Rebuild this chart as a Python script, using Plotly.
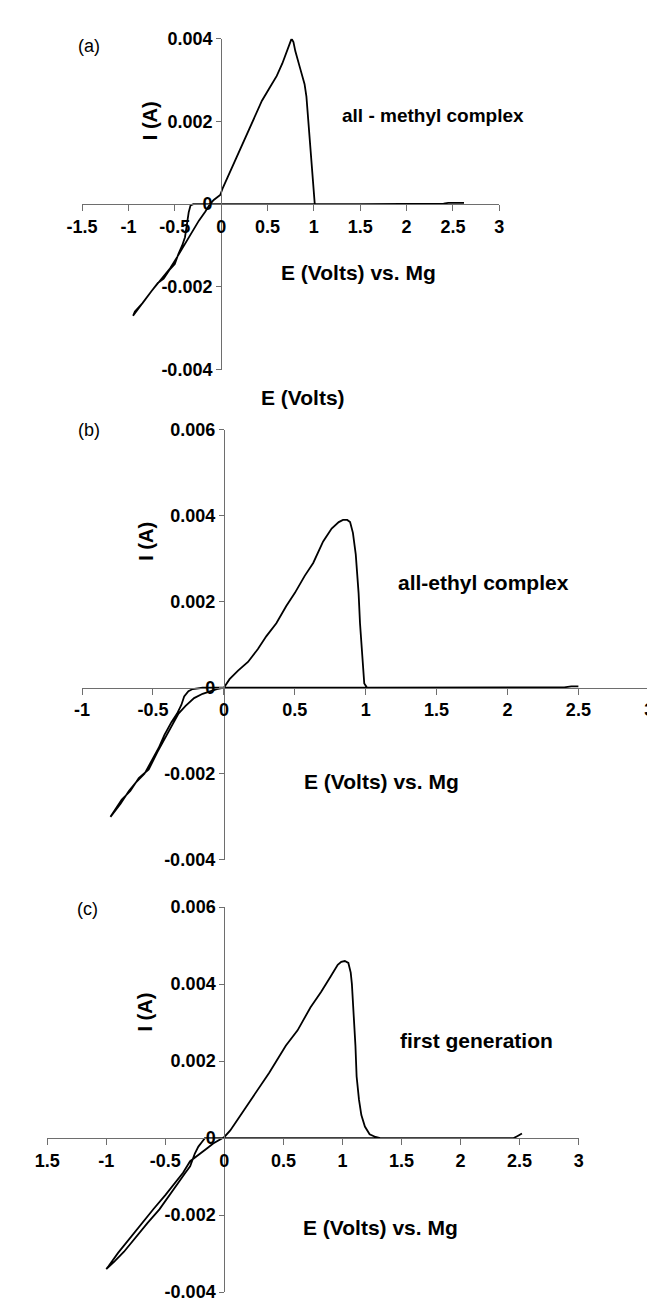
import plotly.graph_objects as go

# ---------------- data (E in V vs. Mg, I in A) ----------------
E_a = [2.62, 2.55, 2.45, 2.40, 2.0, 1.5, 1.0, 0.5, 0.0, -0.20, -0.30, -0.33,
       -0.35, -0.37, -0.39, -0.42, -0.46, -0.50, -0.56, -0.62, -0.68, -0.75, -0.82, -0.88, -0.95,
       -0.93, -0.85, -0.75, -0.64, -0.55, -0.48, -0.40, -0.32, -0.24, -0.17, -0.12, -0.08, -0.04,
       -0.01, 0.02, 0.06, 0.12, 0.20, 0.28, 0.36, 0.44, 0.52, 0.60, 0.66, 0.71, 0.74, 0.76, 0.78, 0.80,
       0.85, 0.90, 0.92, 0.94, 0.96, 0.99, 1.01, 1.5, 2.0, 2.4, 2.45, 2.62]
I_a = [0.00003, 0.00003, 0.00003, 0.00001, 0.0, 0.0, 0.0, 0.0, 0.0, 0.0, 0.0, -0.00003,
       -0.0002, -0.0005, -0.0008, -0.0010, -0.0012, -0.00145, -0.0016, -0.0018, -0.0019, -0.0021, -0.0023, -0.0025, -0.0027,
       -0.0026, -0.0024, -0.0021, -0.0018, -0.00155, -0.0013, -0.0010, -0.0007, -0.0004, -0.00018, 0.0, 0.0001, 0.00016,
       0.00022, 0.0004, 0.0006, 0.0009, 0.0013, 0.0017, 0.0021, 0.0025, 0.0028, 0.0031, 0.0034, 0.0037, 0.00393, 0.0040, 0.00392, 0.0037,
       0.0033, 0.0029, 0.0026, 0.0020, 0.0013, 0.0005, 0.0, 0.0, 0.0, 0.00001, 0.00003, 0.00003]

E_b = [2.50, 2.45, 2.40, 2.0, 1.5, 1.0, 0.5, 0.0, -0.15, -0.22,
       -0.25, -0.28, -0.30, -0.33, -0.37, -0.42, -0.46, -0.51, -0.56, -0.62, -0.67, -0.73, -0.80,
       -0.78, -0.72, -0.66, -0.60, -0.53, -0.47, -0.42, -0.37, -0.32, -0.27, -0.21, -0.15, -0.10, -0.05,
       0.0, 0.04, 0.10, 0.17, 0.24, 0.30, 0.37, 0.44, 0.50, 0.57, 0.63, 0.70, 0.76, 0.81, 0.84, 0.87, 0.89,
       0.91, 0.93, 0.95, 0.96, 0.98, 0.99, 1.01, 1.5, 2.0, 2.40, 2.45, 2.50]
I_b = [0.00003, 0.00003, 0.00001, 0.0, 0.0, 0.0, 0.0, 0.0, 0.0, -0.00003,
       -0.00008, -0.0002, -0.0004, -0.0006, -0.0008, -0.0011, -0.0014, -0.0017, -0.0020, -0.0022, -0.0024, -0.0027, -0.0030,
       -0.0029, -0.0026, -0.0024, -0.0021, -0.0019, -0.0015, -0.0012, -0.0009, -0.0006, -0.00042, -0.00024, -0.00014, -0.00008, -0.00003,
       0.0, 0.0002, 0.0004, 0.0006, 0.0009, 0.0012, 0.0015, 0.0019, 0.0022, 0.0026, 0.0029, 0.0034, 0.0037, 0.00385, 0.0039, 0.0039, 0.00385,
       0.0036, 0.0031, 0.0022, 0.0015, 0.0006, 0.0001, 0.0, 0.0, 0.0, 0.00001, 0.00003, 0.00003]

E_c = [2.45, 2.0, 1.5, 1.0, 0.5, 0.0, -0.10, -0.165,
       -0.19, -0.22, -0.25, -0.29, -0.33, -0.37, -0.45, -0.55, -0.65, -0.75, -0.85, -0.93, -1.00,
       -0.98, -0.90, -0.80, -0.70, -0.60, -0.50, -0.42, -0.35, -0.29, -0.20, -0.14, -0.095, -0.04,
       0.0, 0.05, 0.14, 0.25, 0.38, 0.52, 0.62, 0.73, 0.82, 0.90, 0.96, 0.99, 1.02, 1.05, 1.07, 1.08,
       1.10, 1.11, 1.12, 1.14, 1.16, 1.19, 1.23, 1.28, 1.32, 1.8, 2.2, 2.45, 2.48, 2.52]
I_c = [0.0, 0.0, 0.0, 0.0, 0.0, 0.0, 0.0, 0.0,
       -0.0001, -0.00022, -0.0004, -0.00073, -0.0009, -0.00107, -0.0014, -0.00185, -0.0022, -0.00258, -0.00295, -0.0032, -0.0034,
       -0.00332, -0.00298, -0.0026, -0.0022, -0.00184, -0.00148, -0.00118, -0.0009, -0.0006, -0.0004, -0.00025, -0.00014, -0.00005,
       0.00003, 0.0002, 0.0006, 0.0011, 0.0017, 0.0024, 0.0028, 0.0034, 0.0038, 0.0042, 0.0045, 0.00458, 0.0046, 0.00455, 0.0043, 0.0040,
       0.0031, 0.0024, 0.0016, 0.0010, 0.0006, 0.0003, 0.0001, 0.00003, 0.0, 0.0, 0.0, 0.0, 0.00005, 0.00012]

# tick labels
xt_a_vals = [-1.5, -1, -0.5, 0, 0.5, 1, 1.5, 2, 2.5, 3]
xt_a_text = ["-1.5", "-1", "-0.5", "0", "0.5", "1", "1.5", "2", "2.5", "3"]
yt_a_vals = [-0.004, -0.002, 0, 0.002, 0.004]
yt_a_text = ["-0.004", "-0.002", "0", "0.002", "0.004"]

xt_b_vals = [-1, -0.5, 0, 0.5, 1, 1.5, 2, 2.5, 3]
xt_b_text = ["-1", "-0.5", "0", "0.5", "1", "1.5", "2", "2.5", "3"]
yt_b_vals = [-0.004, -0.002, 0, 0.002, 0.004, 0.006]
yt_b_text = ["-0.004", "-0.002", "0", "0.002", "0.004", "0.006"]

xt_c_vals = [-1.5, -1, -0.5, 0, 0.5, 1, 1.5, 2, 2.5, 3]
xt_c_text = ["1.5", "-1", "-0.5", "0", "0.5", "1", "1.5", "2", "2.5", "3"]
yt_c_vals = yt_b_vals
yt_c_text = yt_b_text

panel_letters = ["(a)", "(b)", "(c)"]
panel_names = ["all - methyl complex", "all-ethyl complex", "first generation"]
x_title = "E (Volts) vs. Mg"
y_title = "I (A)"
extra_title = "E (Volts)"

# ---------------- layout helpers ----------------
W, H = 655, 1302
FONT = "Liberation Sans"


def px(x):
    return x / W


def py(y):
    return 1 - y / H


panels = [
    dict(E=E_a, I=I_a, xr=[-1.5, 3], yr=[-0.004, 0.004], xpx=[60, 491], ypx=[21, 357],
         xt=(xt_a_vals, xt_a_text), yt=(yt_a_vals, yt_a_text)),
    dict(E=E_b, I=I_b, xr=[-1, 3], yr=[-0.004, 0.006], xpx=[60, 646], ypx=[418, 855],
         xt=(xt_b_vals, xt_b_text), yt=(yt_b_vals, yt_b_text)),
    dict(E=E_c, I=I_c, xr=[-1.5, 3], yr=[-0.004, 0.006], xpx=[24, 573], ypx=[903, 1294],
         xt=(xt_c_vals, xt_c_text), yt=(yt_c_vals, yt_c_text)),
]

fig = go.Figure()
layout = {}
tickfont = dict(family=FONT, size=18, color="black", weight="bold")

for k, p in enumerate(panels, start=1):
    xd = [px(p["xpx"][0]), px(p["xpx"][1])]
    yd = [py(p["ypx"][1]), py(p["ypx"][0])]
    xpos = yd[0] + (0 - p["yr"][0]) / (p["yr"][1] - p["yr"][0]) * (yd[1] - yd[0])
    ypos = xd[0] + (0 - p["xr"][0]) / (p["xr"][1] - p["xr"][0]) * (xd[1] - xd[0])
    xa = "xaxis" if k == 1 else f"xaxis{k}"
    ya = "yaxis" if k == 1 else f"yaxis{k}"
    layout[xa] = dict(domain=xd, range=p["xr"], anchor="free", position=xpos,
                      showline=True, linecolor="#6e6e6e", linewidth=1.2,
                      ticks="outside", ticklen=6, tickwidth=1.2, tickcolor="#6e6e6e",
                      tickvals=p["xt"][0], ticktext=p["xt"][1], tickfont=tickfont,
                      showgrid=False, zeroline=False)
    layout[ya] = dict(domain=yd, range=p["yr"], anchor="free", position=ypos,
                      showline=True, linecolor="#6e6e6e", linewidth=1.2,
                      ticks="outside", ticklen=5, tickwidth=1.2, tickcolor="#6e6e6e",
                      tickvals=p["yt"][0], ticktext=p["yt"][1], tickfont=tickfont,
                      showgrid=False, zeroline=False)
    fig.add_trace(go.Scatter(x=p["E"], y=p["I"], mode="lines",
                             line=dict(color="black", width=1.8),
                             xaxis="x" if k == 1 else f"x{k}",
                             yaxis="y" if k == 1 else f"y{k}",
                             showlegend=False, hoverinfo="skip"))

ann = []


def add_text(text, x, y, size=21, bold=True, angle=0):
    ann.append(dict(text=text, x=px(x), y=py(y), xref="paper", yref="paper",
                    showarrow=False, textangle=angle, xanchor="center", yanchor="middle",
                    font=dict(family=FONT, size=size, color="black",
                              weight="bold" if bold else "normal")))


# panel (a)
add_text(panel_letters[0], 67, 28, size=18, bold=False)
add_text(y_title, 131, 104, size=20, angle=-90)
add_text(panel_names[0], 423, 99, size=19)
add_text(x_title, 346, 258)
add_text(extra_title, 288, 385)
# panel (b)
add_text(panel_letters[1], 67, 418, size=18, bold=False)
add_text(y_title, 126, 531, size=20, angle=-90)
add_text(panel_names[1], 475, 573)
add_text(x_title, 369, 775)
# panel (c)
add_text(panel_letters[2], 66, 905, size=18, bold=False)
add_text(y_title, 125, 1009, size=20, angle=-90)
add_text(panel_names[2], 467, 1038)
add_text(x_title, 368, 1228)

fig.update_layout(width=W, height=H, margin=dict(l=0, r=0, t=0, b=0),
                  paper_bgcolor="white", plot_bgcolor="white",
                  showlegend=False, annotations=ann, **layout)

fig.write_html("out.html")
